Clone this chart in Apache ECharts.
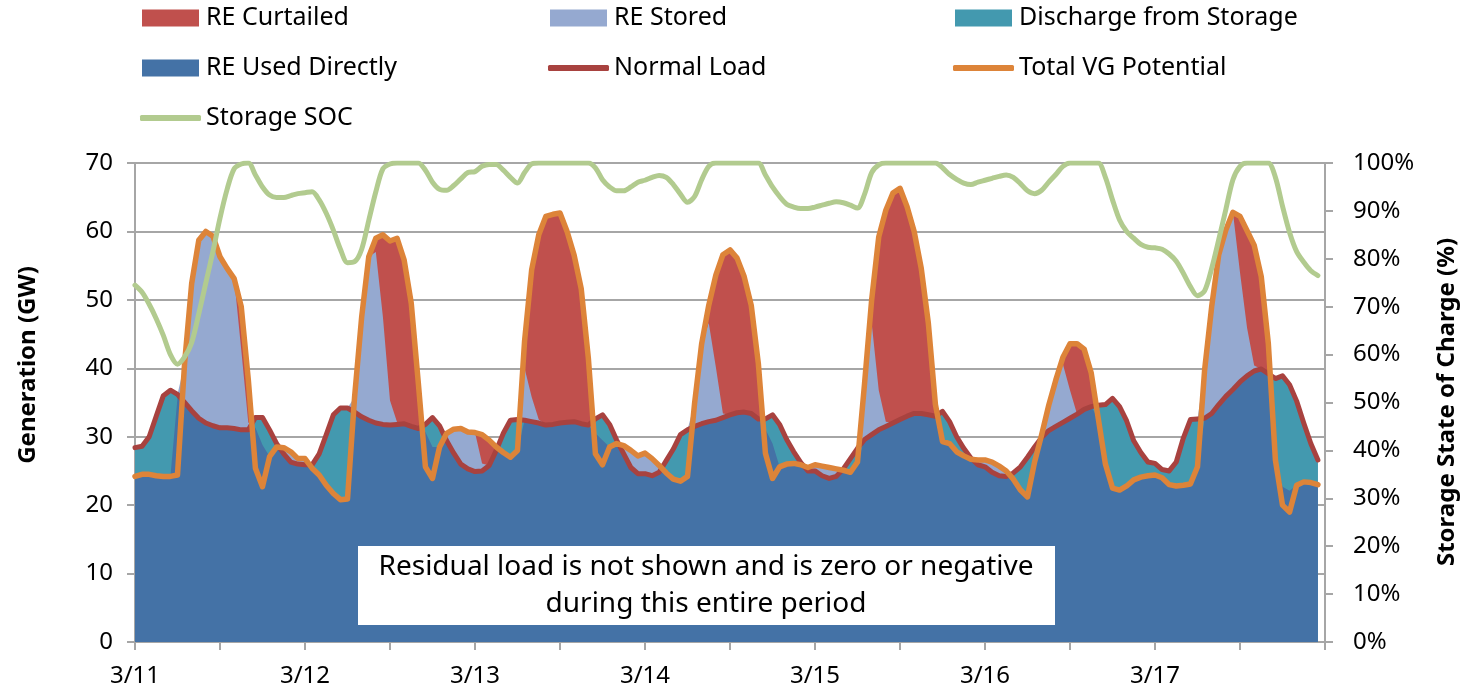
<!DOCTYPE html>
<html>
<head>
<meta charset="utf-8">
<title>RE storage week</title>
<script src="https://cdn.jsdelivr.net/npm/echarts@6.0.0/dist/echarts.min.js"></script>
<style>
  html, body { margin: 0; padding: 0; background: #fff; }
  #chart { width: 1470px; height: 695px; }
</style>
</head>
<body>
<div id="chart"></div>
<script>
// hourly values, 3/11 00:00 .. 3/17 23:00 (one row per day)
const dayLabels = ["3/11", "3/12", "3/13", "3/14", "3/15", "3/16", "3/17"]

// Normal Load (GW)
const load = [
  28.4, 28.6, 30.0, 33.0, 36.0, 36.8, 36.2, 35.0, 33.8, 32.7, 32.0, 31.6, 31.3, 31.3, 31.2, 31.0, 31.0, 32.8, 32.8, 31.0, 29.0, 27.5, 26.3, 26.0,
  25.9, 25.9, 27.5, 30.3, 33.2, 34.2, 34.2, 33.6, 32.9, 32.4, 32.0, 31.8, 31.7, 31.8, 31.9, 31.5, 31.2, 31.8, 32.8, 31.6, 29.4, 27.6, 26.0, 25.3,
  24.9, 25.0, 25.8, 28.0, 30.5, 32.4, 32.5, 32.4, 32.2, 32.0, 31.7, 31.8, 32.0, 32.1, 32.2, 31.9, 31.7, 32.6, 33.2, 31.8, 29.5, 27.5, 25.5, 24.6,
  24.6, 24.3, 24.8, 26.5, 28.2, 30.3, 31.0, 31.5, 31.9, 32.2, 32.4, 32.8, 33.2, 33.5, 33.6, 33.4, 32.6, 32.6, 33.2, 31.8, 29.6, 27.8, 26.2, 25.0,
  25.0, 24.3, 23.9, 24.2, 25.3, 26.8, 28.3, 29.6, 30.3, 31.0, 31.5, 32.0, 32.5, 33.0, 33.4, 33.4, 33.2, 33.0, 33.7, 32.2, 30.0, 28.3, 26.9, 25.9,
  25.6, 24.8, 24.3, 24.2, 24.7, 25.6, 27.0, 28.5, 29.9, 30.9, 31.5, 32.1, 32.7, 33.3, 34.0, 34.4, 34.6, 34.7, 35.6, 34.4, 32.3, 29.4, 27.7, 26.3,
  26.1, 25.2, 25.0, 26.3, 29.8, 32.5, 32.6, 32.7, 33.4, 34.7, 35.9, 36.9, 38.0, 38.9, 39.6, 39.9, 39.2, 38.5, 38.9, 37.6, 35.2, 32.0, 29.0, 26.6
]

// Total VG Potential (GW)
const vg = [
  24.2, 24.5, 24.5, 24.3, 24.2, 24.2, 24.4, 40.7, 52.4, 58.7, 60.0, 59.3, 56.3, 54.6, 53.1, 49.0, 38.3, 25.4, 22.7, 27.1, 28.5, 28.4, 27.8, 26.8,
  26.8, 25.4, 24.4, 22.9, 21.7, 20.8, 20.9, 35.8, 47.5, 56.3, 59.0, 59.5, 58.6, 59.0, 55.8, 49.5, 37.8, 25.6, 23.9, 28.5, 30.5, 31.1, 31.2, 30.7,
  30.6, 30.3, 29.5, 28.5, 27.7, 27.0, 28.0, 44.0, 54.4, 59.5, 62.2, 62.5, 62.7, 60.0, 56.5, 51.6, 41.5, 27.5, 25.9, 28.5, 29.0, 28.7, 28.0, 27.2,
  27.6, 26.8, 25.8, 24.7, 23.8, 23.5, 24.2, 34.9, 43.6, 49.2, 53.6, 56.6, 57.3, 56.1, 53.4, 49.2, 40.7, 27.6, 23.9, 25.6, 26.0, 26.1, 25.9, 25.5,
  25.9, 25.7, 25.5, 25.3, 25.1, 24.8, 26.3, 37.8, 50.0, 59.2, 63.1, 65.6, 66.3, 63.6, 60.0, 54.6, 46.6, 34.7, 29.3, 29.0, 27.8, 27.2, 26.7, 26.6,
  26.6, 26.3, 25.7, 25.0, 23.8, 22.2, 21.2, 26.3, 30.3, 34.6, 38.3, 41.6, 43.6, 43.6, 42.8, 39.3, 32.6, 26.0, 22.5, 22.2, 22.8, 23.7, 24.1, 24.3,
  24.4, 24.0, 23.0, 22.8, 22.9, 23.1, 25.6, 39.7, 49.0, 56.6, 60.2, 62.8, 62.2, 60.1, 58.0, 53.4, 43.6, 26.6, 20.0, 19.0, 22.9, 23.4, 23.3, 23.0
]

// Storage SOC (%)
const soc = [
  74.5, 73.0, 70.5, 67.5, 64.0, 60.0, 58.0, 59.5, 62.5, 68.5, 75.0, 81.5, 88.5, 94.5, 98.8, 99.8, 100, 97.5, 95.0, 93.3, 92.8, 92.8, 93.2, 93.6,
  93.8, 94.0, 92.3, 89.5, 86.0, 82.0, 79.2, 79.4, 82.0, 88.0, 94.0, 98.8, 99.8, 100, 100, 100, 100, 98.5, 96.0, 94.5, 94.3, 95.3, 96.7, 98.0,
  98.2, 99.3, 99.7, 99.7, 98.5, 97.0, 95.8, 98.0, 99.8, 100, 100, 100, 100, 100, 100, 100, 100, 99.0, 96.5, 95.0, 94.2, 94.2, 95.0, 96.0,
  96.4, 97.0, 97.4, 97.0, 95.5, 93.5, 91.8, 93.0, 96.5, 99.3, 100, 100, 100, 100, 100, 100, 100, 97.5, 95.0, 93.0, 91.4, 90.8, 90.5, 90.5,
  90.8, 91.2, 91.6, 91.9, 91.7, 91.2, 90.6, 93.5, 98.0, 99.6, 100, 100, 100, 100, 100, 100, 100, 100, 99.0, 97.6, 96.6, 95.8, 95.5, 96.0,
  96.4, 96.8, 97.2, 97.5, 97.0, 95.7, 94.2, 93.6, 94.3, 96.0, 97.6, 99.3, 100, 100, 100, 100, 100, 97.0, 92.3, 88.1, 85.7, 84.3, 83.0, 82.4,
  82.3, 82.0, 81.0, 79.5, 77.0, 74.2, 72.3, 73.3, 78.0, 84.0, 90.3, 96.5, 99.3, 100, 100, 100, 100, 97.0, 91.0, 85.5, 81.5, 79.3, 77.5, 76.5
]

// RE Stored (GW), sits on top of the load
const stored = [
  0, 0, 0, 0, 0, 0, 0, 5.7, 18.6, 26.0, 28.0, 27.7, 25.0, 23.3, 21.9, 11.7, 1.0, 0, 0, 0, 0, 0.9, 1.5, 0.8,
  0.9, 0, 0, 0, 0, 0, 0, 2.2, 14.6, 23.9, 25.0, 15.7, 3.6, 0.3, 0, 0, 0, 0, 0, 0, 1.1, 3.5, 5.2, 5.4,
  5.7, 1.1, 0, 0, 0, 0, 0, 7.6, 3.6, 0.5, 0, 0, 0, 0, 0, 0, 0, 0, 0, 0, 0, 1.2, 2.5, 2.6,
  3.0, 2.5, 1.0, 0, 0, 0, 0, 3.4, 11.7, 14.4, 7.8, 0.6, 0, 0, 0, 0, 0, 0, 0, 0, 0, 0, 0, 0.5,
  0.9, 1.4, 1.6, 1.1, 0, 0, 0, 8.2, 16.3, 5.8, 0.7, 0, 0, 0, 0, 0, 0, 0, 0, 0, 0, 0, 0, 0.7,
  1.0, 1.5, 1.4, 0.8, 0, 0, 0, 0, 0.4, 3.7, 6.8, 8.5, 4.1, 0, 0, 0, 0, 0, 0, 0, 0, 0, 0, 0,
  0, 0, 0, 0, 0, 0, 0, 7.0, 15.6, 21.9, 24.3, 25.9, 16.0, 7.0, 0.8, 0, 0, 0, 0, 0, 0, 0, 0, 0
]

// Discharge from Storage (GW), the top part under the load
const discharge = [
  3.9, 4.1, 5.5, 8.7, 11.8, 12.6, 0.5, 0, 0, 0, 0, 0, 0, 0, 0, 0, 0, 1.5, 4.0, 3.9, 0.5, 0, 0, 0,
  0, 0.5, 3.1, 7.4, 11.5, 13.4, 13.3, 0, 0, 0, 0, 0, 0, 0, 0, 0, 0, 1.1, 4.3, 3.1, 0, 0, 0, 0,
  0, 0, 0, 0, 2.8, 5.4, 4.5, 0, 0, 0, 0, 0, 0, 0, 0, 0, 0, 2.1, 3.7, 3.3, 0.5, 0, 0, 0,
  0, 0, 0, 1.8, 4.4, 6.8, 6.8, 0, 0, 0, 0, 0, 0, 0, 0, 0, 0, 1.5, 4.2, 6.2, 3.6, 1.7, 0.3, 0,
  0, 0, 0, 0, 0.2, 2.0, 2.0, 0, 0, 0, 0, 0, 0, 0, 0, 0, 0, 0, 4.4, 3.2, 2.2, 1.1, 0.2, 0,
  0, 0, 0, 0, 0.9, 3.4, 5.8, 2.2, 0, 0, 0, 0, 0, 0, 0, 0, 2.0, 8.7, 13.1, 12.2, 9.5, 5.7, 3.6, 2.0,
  1.7, 1.2, 2.0, 3.5, 6.9, 9.4, 7.0, 0, 0, 0, 0, 0, 0, 0, 0, 0, 0, 11.6, 16.2, 15.5, 12.3, 8.6, 5.7, 3.6
]

const FONT = "Noto Sans"
const GRID = "#A6A6A6"

const myChart = echarts.init(document.getElementById("chart"))

// areas are layered from the back: curtailed (up to VG), stored, discharge (up to load), used directly
const pts = (arr) => arr.map((v, i) => [i, v])
const storedTop = load.map((v, i) => [i, v + stored[i]])
const usedTop = load.map((v, i) => [i, v - discharge[i]])

const area = (name, data, color) => ({
  name: name,
  type: "line",
  data: data,
  symbol: "none",
  lineStyle: { width: 0 },
  itemStyle: { color: color },
  areaStyle: { color: color, opacity: 1 },
  silent: true
})

const line = (name, data, color, extra) => Object.assign({
  name: name,
  type: "line",
  data: data,
  symbol: "none",
  itemStyle: { color: color },
  lineStyle: { color: color, width: 5, cap: "round", join: "round" }
}, extra || {})

// one legend per entry so each sits where it does in the picture
const legendAt = (name, left, top, rect) => ({
  data: [{ name: name, icon: rect ? "rect" : "roundRect" }],
  left: rect ? left : left - 2,
  top: top,
  padding: 0,
  itemWidth: rect ? 57 : 61,
  itemHeight: rect ? 17 : 6,
  selectedMode: false,
  textStyle: { fontFamily: FONT, fontSize: 25, color: "#000", lineHeight: 26, padding: [0, 0, 0, rect ? 2 : 0] }
})

myChart.setOption({
  animation: false,
  backgroundColor: "#fff",
  grid: { left: 135, right: 145, top: 163, bottom: 53 },
  legend: [
    legendAt("RE Curtailed", 142, 5, true),
    legendAt("RE Stored", 550, 5, true),
    legendAt("Discharge from Storage", 955, 5, true),
    legendAt("RE Used Directly", 142, 55, true),
    legendAt("Normal Load", 550, 55, false),
    legendAt("Total VG Potential", 955, 55, false),
    legendAt("Storage SOC", 142, 105, false)
  ],
  xAxis: {
    type: "value",
    min: 0,
    max: 168,
    interval: 12,
    axisLine: { show: true, lineStyle: { color: GRID, width: 2 } },
    axisTick: { show: true, length: 8, lineStyle: { color: GRID, width: 2 } },
    splitLine: { show: false },
    axisLabel: {
      fontFamily: FONT, fontSize: 24, color: "#000", margin: 22,
      formatter: (v) => (v % 24 === 0 && v < 168 ? dayLabels[v / 24] : "")
    }
  },
  yAxis: [
    {
      type: "value",
      min: 0,
      max: 70,
      interval: 10,
      axisLine: { show: true, lineStyle: { color: GRID, width: 2 } },
      axisTick: { show: true, length: 8, lineStyle: { color: GRID, width: 2 } },
      splitLine: { show: true, lineStyle: { color: GRID, width: 2 } },
      axisLabel: { fontFamily: FONT, fontSize: 24, color: "#000", margin: 22 }
    },
    {
      type: "value",
      min: 0,
      max: 100,
      interval: 10,
      position: "right",
      axisLine: { show: true, lineStyle: { color: GRID, width: 2 } },
      axisTick: { show: true, length: 8, lineStyle: { color: GRID, width: 2 } },
      splitLine: { show: false },
      axisLabel: { fontFamily: FONT, fontSize: 24, color: "#000", margin: 28, formatter: "{value}%" }
    }
  ],
  graphic: [
    {
      type: "text", x: 28, y: 365, rotation: Math.PI / 2,
      style: { text: "Generation (GW)", font: "bold 24px 'Noto Sans'", fill: "#000", align: "center", verticalAlign: "middle" }
    },
    {
      type: "text", x: 1447, y: 402, rotation: Math.PI / 2,
      style: { text: "Storage State of Charge (%)", font: "bold 24px 'Noto Sans'", fill: "#000", align: "center", verticalAlign: "middle" }
    },
    {
      type: "rect", z: 100,
      shape: { x: 358, y: 546, width: 697, height: 79 },
      style: { fill: "#fff" }
    },
    {
      type: "text", z: 101, x: 706, y: 567,
      style: { text: "Residual load is not shown and is zero or negative", font: "28px 'Noto Sans'", fill: "#000", align: "center", verticalAlign: "middle" }
    },
    {
      type: "text", z: 101, x: 706, y: 604,
      style: { text: "during this entire period", font: "28px 'Noto Sans'", fill: "#000", align: "center", verticalAlign: "middle" }
    }
  ],
  series: [
    area("RE Curtailed", pts(vg), "#C0504D"),
    area("RE Stored", storedTop, "#95A9D0"),
    area("Discharge from Storage", pts(load), "#4399AF"),
    area("RE Used Directly", usedTop, "#4472A6"),
    line("Normal Load", pts(load), "#A8423F"),
    line("Total VG Potential", pts(vg), "#DD8439", { lineStyle: { color: "#DD8439", width: 5.5, cap: "round", join: "round" } }),
    line("Storage SOC", pts(soc), "#B2CB8F", { yAxisIndex: 1, smooth: 0.3 })
  ]
})

window.addEventListener("resize", () => {
  myChart.resize()
})
</script>
</body>
</html>
